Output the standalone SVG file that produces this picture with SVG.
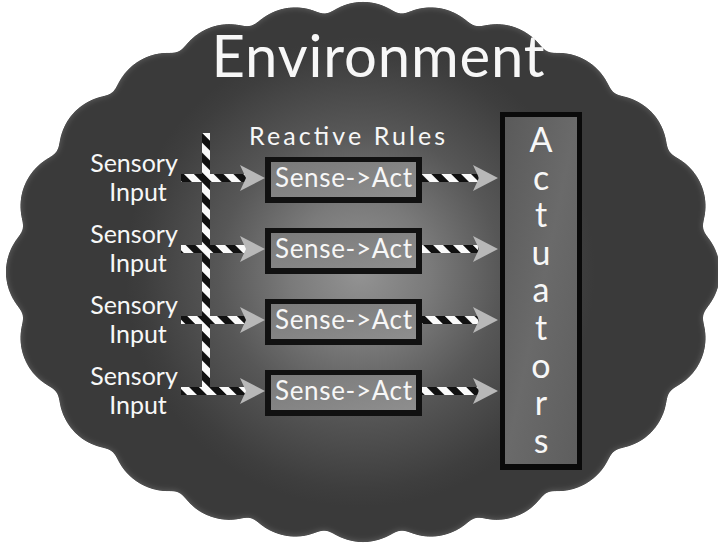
<svg xmlns="http://www.w3.org/2000/svg" width="718" height="544" viewBox="0 0 718 544">
<style>
.t{font-family:Lato,"Open Sans","DejaVu Sans",sans-serif;fill:#f7f7f7}
.in{font-size:25px;text-anchor:middle}
.rule{font-size:26px;text-anchor:middle}
.act{font-size:34px;text-anchor:middle}
.head{fill:#b8b8b8}
.stripe{fill:url(#stripes)}
</style>
<defs>
<radialGradient id="bg" gradientUnits="userSpaceOnUse" cx="360" cy="272" r="235">
<stop offset="0" stop-color="#939393"/>
<stop offset="0.3" stop-color="#7a7a7a"/>
<stop offset="0.6" stop-color="#575757"/>
<stop offset="0.92" stop-color="#3e3e3e"/>
<stop offset="1" stop-color="#3a3a3a"/>
</radialGradient>
<linearGradient id="boxFill" x1="0" y1="0" x2="1" y2="1">
<stop offset="0" stop-color="#7a7a7a"/>
<stop offset="1" stop-color="#8e8e8e"/>
</linearGradient>
<linearGradient id="actFill" x1="0" y1="0" x2="1" y2="1">
<stop offset="0" stop-color="#5a5a5a"/>
<stop offset="0.5" stop-color="#6a6a6a"/>
<stop offset="1" stop-color="#5e5e5e"/>
</linearGradient>
<pattern id="stripes" patternUnits="userSpaceOnUse" width="14" height="14" patternTransform="rotate(-45)">
<rect x="0" y="0" width="7" height="14" fill="#111"/>
<rect x="7" y="0" width="7" height="14" fill="#fafafa"/>
</pattern>
<filter id="goo" filterUnits="userSpaceOnUse" x="-30" y="-30" width="780" height="610">
<feGaussianBlur in="SourceGraphic" stdDeviation="6" result="b"/>
<feComponentTransfer in="b"><feFuncA type="linear" slope="18" intercept="-8"/></feComponentTransfer>
</filter>
<filter id="rim" filterUnits="userSpaceOnUse" x="-30" y="-30" width="780" height="610">
<feGaussianBlur in="SourceAlpha" stdDeviation="6" result="b"/>
<feComponentTransfer in="b" result="shape"><feFuncA type="linear" slope="18" intercept="-8"/></feComponentTransfer>
<feGaussianBlur in="shape" stdDeviation="3" result="sb"/>
<feComposite in="shape" in2="sb" operator="out" result="edge"/>
<feFlood flood-color="#a0a0a0" flood-opacity="0.45"/>
<feComposite in2="edge" operator="in"/>
</filter>
<path id="blobPath" d="M61,272 A302,215 0 1 1 665,272 A302,215 0 1 1 61,272 Z" pathLength="24"/>
<mask id="blobMask" maskUnits="userSpaceOnUse" x="0" y="0" width="718" height="544">
<g filter="url(#goo)">
<use href="#blobPath" fill="#fff" stroke="#fff" stroke-width="110" stroke-dasharray="0 1" stroke-linecap="round"/>
</g>
</mask>
</defs>
<rect width="718" height="544" fill="#fff"/>
<g id="environment">
<rect width="718" height="544" fill="url(#bg)" mask="url(#blobMask)"/>
<g filter="url(#rim)">
<use href="#blobPath" fill="#fff" stroke="#fff" stroke-width="110" stroke-dasharray="0 1" stroke-linecap="round"/>
</g>
<text class="t" x="378" y="77" font-size="58" text-anchor="middle" textLength="333" lengthAdjust="spacing">Environment</text>
</g>
<g id="reactive-rules-label">
<text class="t" x="347" y="145" font-size="25" text-anchor="middle" textLength="196" lengthAdjust="spacing">Reactive Rules</text>
</g>
<g id="connectors">
<rect class="stripe" x="181" y="174" width="66" height="8"/>
<rect class="stripe" x="181" y="245" width="66" height="8"/>
<rect class="stripe" x="181" y="316" width="66" height="8"/>
<rect class="stripe" x="181" y="387" width="66" height="8"/>
<rect class="stripe" x="202" y="133" width="8" height="262"/>
<polygon class="head" points="265,178 240,165 246,178 240,191"/>
<polygon class="head" points="265,249 240,236 246,249 240,262"/>
<polygon class="head" points="265,320 240,307 246,320 240,333"/>
<polygon class="head" points="265,391 240,378 246,391 240,404"/>
<rect class="stripe" x="422" y="174" width="56" height="8"/>
<rect class="stripe" x="422" y="245" width="56" height="8"/>
<rect class="stripe" x="422" y="316" width="56" height="8"/>
<rect class="stripe" x="422" y="387" width="56" height="8"/>
<polygon class="head" points="498,178 473,165 479,178 473,191"/>
<polygon class="head" points="498,249 473,236 479,249 473,262"/>
<polygon class="head" points="498,320 473,307 479,320 473,333"/>
<polygon class="head" points="498,391 473,378 479,391 473,404"/>
</g>
<g id="input1"><text class="t in" x="134" y="172">Sensory</text><text class="t in" x="138" y="201">Input</text></g>
<g id="input2"><text class="t in" x="134" y="243">Sensory</text><text class="t in" x="138" y="272">Input</text></g>
<g id="input3"><text class="t in" x="134" y="314">Sensory</text><text class="t in" x="138" y="343">Input</text></g>
<g id="input4"><text class="t in" x="134" y="385">Sensory</text><text class="t in" x="138" y="414">Input</text></g>
<g id="rule1"><rect x="265" y="157" width="157" height="46" fill="#111"/><rect x="271" y="162" width="145" height="35" fill="url(#boxFill)"/><text class="t rule" x="343.5" y="187" textLength="137" lengthAdjust="spacing">Sense->Act</text></g>
<g id="rule2"><rect x="265" y="228" width="157" height="46" fill="#111"/><rect x="271" y="233" width="145" height="35" fill="url(#boxFill)"/><text class="t rule" x="343.5" y="258" textLength="137" lengthAdjust="spacing">Sense->Act</text></g>
<g id="rule3"><rect x="265" y="299" width="157" height="46" fill="#111"/><rect x="271" y="304" width="145" height="35" fill="url(#boxFill)"/><text class="t rule" x="343.5" y="329" textLength="137" lengthAdjust="spacing">Sense->Act</text></g>
<g id="rule4"><rect x="265" y="370" width="157" height="46" fill="#111"/><rect x="271" y="375" width="145" height="35" fill="url(#boxFill)"/><text class="t rule" x="343.5" y="400" textLength="137" lengthAdjust="spacing">Sense->Act</text></g>
<g id="actuators">
<rect x="500" y="112" width="82" height="358" fill="#0a0a0a"/>
<rect x="505" y="117" width="72" height="347" fill="url(#actFill)"/>
<text class="t act" x="541" y="152">A</text>
<text class="t act" x="541" y="190">c</text>
<text class="t act" x="541" y="227">t</text>
<text class="t act" x="541" y="265">u</text>
<text class="t act" x="541" y="302">a</text>
<text class="t act" x="541" y="340">t</text>
<text class="t act" x="541" y="378">o</text>
<text class="t act" x="541" y="415">r</text>
<text class="t act" x="541" y="453">s</text>
</g>
</svg>
